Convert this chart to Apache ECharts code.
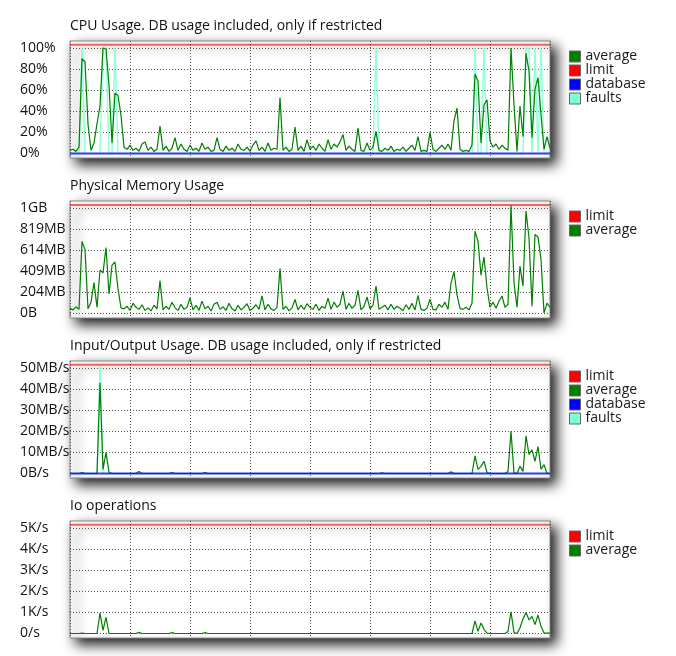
<!DOCTYPE html>
<html>
<head>
<meta charset="utf-8">
<script src="https://cdn.jsdelivr.net/npm/echarts@6/dist/echarts.min.js"></script>
<style>
  html, body { margin: 0; background: #fff; }
  #main { width: 676px; height: 656px; }
</style>
</head>
<body>
<div id="main"></div>
<script>
// sample index 0..160 along the time axis, one value per sample
const cpuAverage = [
  3, 4, 2, 6, 90, 87, 28, 3, 10, 28, 45, 100, 99, 65, 10, 57, 55, 36, 6, 4,
  8, 3, 5, 2, 9, 11, 3, 6, 2, 4, 26, 3, 7, 2, 5, 15, 3, 9, 4, 2,
  8, 3, 5, 2, 10, 4, 6, 2, 3, 15, 4, 2, 7, 3, 5, 2, 9, 4, 3, 6,
  2, 8, 12, 3, 6, 2, 10, 3, 5, 4, 53, 3, 6, 2, 4, 25, 3, 7, 2, 13,
  4, 7, 3, 9, 5, 2, 13, 4, 9, 6, 11, 18, 3, 7, 4, 2, 24, 3, 2, 10,
  3, 6, 21, 3, 2, 5, 3, 7, 2, 4, 3, 6, 2, 5, 8, 3, 16, 2, 3, 2,
  20, 4, 2, 5, 8, 4, 9, 3, 31, 43, 4, 2, 3, 2, 8, 75, 69, 10, 46, 51,
  12, 6, 9, 4, 8, 5, 3, 100, 46, 2, 45, 16, 95, 78, 15, 61, 72, 37, 4, 16,
  5
];
const cpuFaults = [
  0, 0, 0, 0, 100, 0, 0, 0, 0, 0, 0, 100, 100, 0, 0, 100, 0, 0, 0, 0,
  0, 0, 0, 0, 0, 0, 0, 0, 0, 0, 0, 0, 0, 0, 0, 0, 0, 0, 0, 0,
  0, 0, 0, 0, 0, 0, 0, 0, 0, 0, 0, 0, 0, 0, 0, 0, 0, 0, 0, 0,
  0, 0, 0, 0, 0, 0, 0, 0, 0, 0, 0, 0, 0, 0, 0, 0, 0, 0, 0, 0,
  0, 0, 0, 0, 0, 0, 0, 0, 0, 0, 0, 0, 0, 0, 0, 0, 0, 0, 0, 0,
  0, 0, 100, 0, 0, 0, 0, 0, 0, 0, 0, 0, 0, 0, 0, 0, 0, 0, 0, 0,
  0, 0, 0, 0, 0, 0, 0, 0, 0, 0, 0, 0, 0, 0, 0, 100, 0, 0, 100, 0,
  0, 0, 0, 0, 0, 0, 0, 0, 0, 0, 0, 0, 100, 100, 0, 100, 0, 100, 0, 0,
  0
];
const cpuDatabase = 0;
const cpuLimit = 103;

// MB
const memAverage = [
  50, 35, 65, 40, 700, 620, 45, 110, 300, 60, 420, 395, 640, 190, 470, 500, 240, 55, 45, 70,
  30, 100, 60, 40, 85, 30, 55, 25, 80, 45, 320, 35, 70, 40, 110, 55, 30, 90, 40, 60,
  150, 35, 80, 30, 120, 45, 70, 25, 90, 110, 40, 65, 30, 100, 45, 25, 80, 35, 60, 95,
  30, 50, 85, 40, 170, 35, 90, 45, 30, 60, 437, 40, 70, 25, 55, 136, 35, 80, 40, 95,
  60, 40, 90, 30, 70, 50, 150, 40, 110, 60, 90, 217, 40, 100, 50, 80, 224, 35, 70, 160,
  45, 80, 266, 40, 60, 80, 35, 90, 40, 70, 50, 30, 85, 40, 100, 35, 175, 40, 30, 50,
  140, 40, 35, 90, 60, 110, 40, 298, 405, 180, 50, 40, 60, 35, 100, 800, 700, 372, 548, 250,
  60, 110, 50, 120, 170, 60, 90, 1050, 300, 60, 460, 266, 995, 735, 71, 768, 742, 525, 6, 100,
  60
];
const memLimit = 1054;

// MB/s
const ioAverage = [
  0, 0, 0, 0, 0.5, 0, 0, 0, 0, 0, 43, 2, 10, 0.5, 0, 0, 0, 0, 0, 0,
  0, 0, 0, 1, 0, 0, 0, 0, 0, 0, 0, 0, 0, 0, 0.5, 0, 0, 0, 0, 0,
  0, 0, 0, 0, 0, 0.5, 0, 0, 0, 0, 0, 0, 0, 0, 0, 0, 0, 0, 0, 0,
  0, 0, 0, 0, 0, 0, 0, 0, 0, 0, 0, 0, 0, 0, 0, 0, 0, 0, 0, 0,
  0, 0, 0, 0, 0, 0, 0, 0, 0, 0, 0, 0, 0, 0, 0, 0, 0, 0, 0, 0,
  0, 0, 0, 0, 0.3, 0, 0, 0, 0, 0, 0, 0, 0, 0, 0, 0, 0, 0, 0, 0,
  0, 0, 0, 0, 0, 0, 0, 0.8, 0, 0, 0, 0, 0, 0, 0, 8.4, 2, 3.4, 5.8, 0.5,
  0, 0, 0, 0, 0, 0, 1, 20, 0.3, 0, 3.4, 1, 17.8, 9, 11.2, 5.8, 12.8, 2, 4.2, 0,
  0
];
const ioFaults = [
  0, 0, 0, 0, 0, 0, 0, 0, 0, 0, 51, 0, 0, 0, 0, 0, 0, 0, 0, 0,
  0, 0, 0, 0, 0, 0, 0, 0, 0, 0, 0, 0, 0, 0, 0, 0, 0, 0, 0, 0,
  0, 0, 0, 0, 0, 0, 0, 0, 0, 0, 0, 0, 0, 0, 0, 0, 0, 0, 0, 0,
  0, 0, 0, 0, 0, 0, 0, 0, 0, 0, 0, 0, 0, 0, 0, 0, 0, 0, 0, 0,
  0, 0, 0, 0, 0, 0, 0, 0, 0, 0, 0, 0, 0, 0, 0, 0, 0, 0, 0, 0,
  0, 0, 0, 0, 0, 0, 0, 0, 0, 0, 0, 0, 0, 0, 0, 0, 0, 0, 0, 0,
  0, 0, 0, 0, 0, 0, 0, 0, 0, 0, 0, 0, 0, 0, 0, 0, 0, 0, 0, 0,
  0, 0, 0, 0, 0, 0, 0, 0, 0, 0, 0, 0, 0, 0, 0, 0, 0, 0, 0, 0,
  0
];
const ioDatabase = 0;
const ioLimit = 51.5;

// K/s
const opsAverage = [
  0, 0, 0, 0, 0.02, 0, 0, 0, 0, 0, 0.97, 0.15, 0.77, 0, 0, 0, 0, 0, 0, 0,
  0, 0, 0, 0.06, 0, 0, 0, 0, 0, 0, 0, 0, 0, 0, 0.05, 0, 0, 0, 0, 0,
  0, 0, 0, 0, 0, 0.05, 0, 0, 0, 0, 0, 0, 0, 0, 0, 0, 0, 0, 0, 0,
  0, 0, 0, 0, 0, 0, 0, 0, 0, 0, 0, 0, 0, 0, 0, 0, 0, 0, 0, 0,
  0, 0, 0, 0, 0, 0, 0, 0, 0, 0, 0, 0, 0, 0, 0, 0, 0, 0, 0, 0,
  0, 0, 0, 0, 0, 0, 0, 0, 0, 0, 0, 0, 0, 0, 0, 0, 0, 0, 0, 0,
  0, 0, 0, 0, 0, 0, 0, 0, 0, 0, 0, 0, 0, 0, 0, 0.6, 0.1, 0.5, 0.2, 0.02,
  0, 0, 0, 0, 0, 0, 0.1, 1.03, 0.05, 0, 0.27, 0.69, 1.0, 0.65, 0.81, 0.42, 0.875, 0.34, 0.02, 0.02,
  0.02
];
const opsLimit = 5.15;

// tick labels, bottom to top
const cpuTicks = ['0%', '20%', '40%', '60%', '80%', '100%'];
const memTicks = ['0B', '204MB', '409MB', '614MB', '819MB', '1GB'];
const ioTicks = ['0B/s', '10MB/s', '20MB/s', '30MB/s', '40MB/s', '50MB/s'];
const opsTicks = ['0/s', '1K/s', '2K/s', '3K/s', '4K/s', '5K/s'];

const lastSample = cpuAverage.length - 1;
const font = 'Open Sans';
const colors = { average: '#008000', limit: '#ff0000', database: '#0000ff', faults: '#7fffd4' };

const panels = [
  { title: 'CPU Usage. DB usage included, only if restricted', max: 100, step: 20, ticks: cpuTicks,
    limit: cpuLimit, average: cpuAverage, faults: cpuFaults, database: cpuDatabase,
    legend: ['average', 'limit', 'database', 'faults'] },
  { title: 'Physical Memory Usage', max: 1024, step: 204.8, ticks: memTicks,
    limit: memLimit, average: memAverage,
    legend: ['limit', 'average'] },
  { title: 'Input/Output Usage. DB usage included, only if restricted', max: 50, step: 10, ticks: ioTicks,
    limit: ioLimit, average: ioAverage, faults: ioFaults, database: ioDatabase,
    legend: ['limit', 'average', 'database', 'faults'] },
  { title: 'Io operations', max: 5, step: 1, ticks: opsTicks,
    limit: opsLimit, average: opsAverage,
    legend: ['limit', 'average'] }
];

const pts = arr => arr.map((v, i) => [i, v]);
const flat = v => [[0, v], [lastSample, v]];

var title = [], grid = [], xAxis = [], yAxis = [], legend = [], series = [];

panels.forEach(function (p, k) {
  var off = 160 * k;
  var frame = 2 * k, plot = 2 * k + 1;

  title.push({
    text: p.title, left: 70, top: 19 + off, padding: 0,
    textStyle: { fontFamily: font, fontSize: 14, fontWeight: 'normal', color: '#111' }
  });

  // outer box with the drop shadow, vertical dotted lines live here
  grid.push({
    left: 70, top: 41 + off, width: 480, height: 117, z: -1,
    show: true, backgroundColor: '#fff', borderColor: '#888', borderWidth: 1,
    shadowColor: 'rgba(0,0,0,0.9)', shadowBlur: 12, shadowOffsetX: 6, shadowOffsetY: 6,
    outerBoundsMode: 'none'
  });
  // inner area spanning 0 .. top tick
  grid.push({ left: 70, top: 48 + off, width: 480, height: 105.5, show: false, outerBoundsMode: 'none' });

  xAxis.push({
    gridIndex: frame, type: 'value', min: 0, max: lastSample, interval: 20,
    axisLine: { show: false }, axisTick: { show: false }, axisLabel: { show: false },
    splitLine: { show: true, lineStyle: { color: '#555', type: [1, 2] } }
  });
  xAxis.push({ gridIndex: plot, type: 'value', min: 0, max: lastSample, show: false });
  yAxis.push({ gridIndex: frame, type: 'value', min: 0, max: 1, show: false });
  yAxis.push({
    gridIndex: plot, type: 'value', min: 0, max: p.max, interval: p.step,
    axisLine: { show: false }, axisTick: { show: false },
    axisLabel: {
      align: 'left', margin: 50, fontFamily: font, fontSize: 14, color: '#111',
      padding: [4, 0, 0, 0], showMinLabel: true, showMaxLabel: true,
      formatter: (v, i) => p.ticks[i]
    },
    splitLine: { show: true, lineStyle: { color: '#555', type: [1, 2] } }
  });

  legend.push({
    orient: 'vertical', left: 569, top: 49.5 + off, padding: 0, itemGap: 0,
    itemWidth: 11, itemHeight: 11, icon: 'rect', selectedMode: false,
    itemStyle: { borderColor: '#666', borderWidth: 1 },
    textStyle: { fontFamily: font, fontSize: 14, lineHeight: 13, color: '#1a1a1a' },
    data: p.legend.map(n => ({ name: n, itemStyle: { color: colors[n], borderColor: '#666', borderWidth: 1 } }))
  });

  var base = { type: 'line', xAxisIndex: plot, yAxisIndex: plot, symbol: 'none', showSymbol: false,
               clip: false, silent: true, animation: false };
  series.push(Object.assign({}, base, {
    name: 'limit', data: flat(p.limit), lineStyle: { color: 'rgba(255,0,0,0.6)', width: 2 }
  }));
  if (p.faults) {
    series.push(Object.assign({}, base, {
      name: 'faults', data: pts(p.faults), lineStyle: { color: 'rgba(127,255,212,0.85)', width: 1.5 }
    }));
  }
  series.push(Object.assign({}, base, {
    name: 'average', data: pts(p.average), lineStyle: { color: '#008000', width: 1.2 }
  }));
  if (p.database !== undefined) {
    series.push(Object.assign({}, base, {
      name: 'database', data: flat(p.database), lineStyle: { color: 'rgba(20,20,230,0.8)', width: 2 }
    }));
  }
});

var myChart = echarts.init(document.getElementById('main'));
myChart.setOption({
  animation: false,
  backgroundColor: '#fff',
  title: title,
  grid: grid,
  xAxis: xAxis,
  yAxis: yAxis,
  legend: legend,
  series: series
});
</script>
</body>
</html>
